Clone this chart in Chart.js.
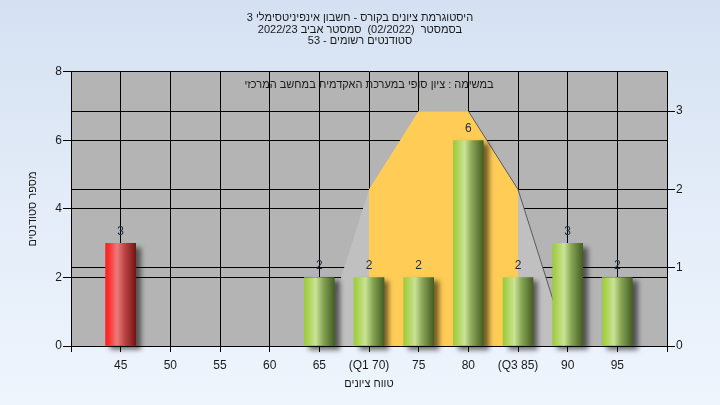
<!DOCTYPE html>
<html><head><meta charset="utf-8">
<script src="https://cdn.jsdelivr.net/npm/chart.js@4"></script>
<style>
html,body{margin:0;padding:0;}
body{width:720px;height:405px;overflow:hidden;background:linear-gradient(to bottom,#d5e1f2 0%,#e3ecf8 50%,#eef5fd 100%);}
canvas{display:block}
</style></head>
<body>
<canvas id="c" width="720" height="405"></canvas>
<script>
// ---- texts ----
const titleLines = [
  'היסטוגרמת ציונים בקורס - חשבון אינפיניטסימלי 3',
  'בסמסטר  (02/2022)  סמסטר אביב 2022/23',
  'סטודנטים רשומים - 53'
];
const legendText = 'במשימה : ציון סופי במערכת האקדמית במחשב המרכזי';
const yAxisTitle = 'מספר סטודנטים';
const xAxisTitle = 'טווח ציונים';

// ---- data ----
const gradeBins = [45, 50, 55, 60, 65, 70, 75, 80, 85, 90, 95];
const studentCounts = [3, 0, 0, 0, 2, 2, 2, 6, 2, 3, 2];
const xTickValues = [45, 50, 55, 60, 65, 70, 75, 80, 85, 90, 95];
const xTickLabels = ['45', '50', '55', '60', '65', '(Q1 70)', '75', '80', '(Q3 85)', '90', '95'];
const boxShapeX = [65, 70, 75, 80, 85, 90];
const boxShapeY = [0, 2, 3, 3, 2, 0];
const quartile1 = 70;
const quartile3 = 85;
const passingGrade = 55;

const FONT = "'Liberation Sans', Arial, 'DejaVu Sans', sans-serif";
const TEXT = '#1a1a1a';
const BAR_W = 30;

const redStops = [[0,'#ff1c1c'],[0.12,'#fb3434'],[0.38,'#ea7c7c'],[0.62,'#c04646'],[1,'#761414']];
const greenStops = [[0,'#9ccb3e'],[0.12,'#aad252'],[0.38,'#cae396'],[0.62,'#88a656'],[1,'#465f22']];

const barData = gradeBins.map((x, i) => ({x, y: studentCounts[i] > 0 ? studentCounts[i] : null}));
const shapePts = boxShapeX.map((x, i) => ({x, y: boxShapeY[i]}));
const boxPts = shapePts.filter(p => p.x >= quartile1 && p.x <= quartile3);
const topY = Math.max(...boxShapeY);
const lastTopX = Math.max(...shapePts.filter(p => p.y === topY).map(p => p.x));
const edgePts = shapePts.filter(p => p.x >= lastTopX);

const plotBg = {
  id: 'plotBg',
  beforeDraw(chart) {
    const a = chart.chartArea, c = chart.ctx;
    c.save();
    c.fillStyle = '#b4b4b4';
    c.fillRect(a.left, a.top, a.right - a.left, a.bottom - a.top);
    c.restore();
  }
};

const barShadow = {
  id: 'barShadow',
  beforeDatasetDraw(chart, args) {
    if (args.meta.type !== 'bar') return;
    const c = chart.ctx;
    c.save();
    c.shadowColor = 'rgba(0,0,0,0.55)';
    c.shadowBlur = 5;
    c.shadowOffsetX = 5;
    c.shadowOffsetY = 4;
  },
  afterDatasetDraw(chart, args) {
    if (args.meta.type !== 'bar') return;
    chart.ctx.restore();
  }
};

const labelsPlugin = {
  id: 'valueLabels',
  afterDatasetsDraw(chart) {
    const c = chart.ctx;
    c.save();
    c.font = '12px ' + FONT;
    c.fillStyle = '#1b2a40';
    c.textAlign = 'center';
    c.textBaseline = 'middle';
    chart.data.datasets.forEach((ds, di) => {
      const meta = chart.getDatasetMeta(di);
      if (meta.type !== 'bar') return;
      meta.data.forEach((el, i) => {
        const v = ds.data[i].y;
        if (!v) return;
        c.fillText(String(v), el.x, el.y - 12);
      });
    });
    const a = chart.chartArea;
    c.font = '11px ' + FONT;
    c.fillStyle = TEXT;
    c.fillText(legendText, (a.left + a.right) / 2, a.top + 13);
    c.restore();
  }
};

new Chart(document.getElementById('c'), {
  data: {
    datasets: [
      {
        type: 'bar',
        data: barData,
        yAxisID: 'y',
        barThickness: BAR_W,
        borderWidth: 0,
        clip: false,
        order: 0,
        backgroundColor: (ctx) => {
          const chart = ctx.chart;
          if (!chart.chartArea || ctx.type !== 'data') return '#999';
          const cx = chart.scales.x.getPixelForValue(ctx.parsed.x);
          const g = chart.ctx.createLinearGradient(cx - BAR_W / 2, 0, cx + BAR_W / 2, 0);
          const stops = ctx.parsed.x < passingGrade ? redStops : greenStops;
          stops.forEach(s => g.addColorStop(s[0], s[1]));
          return g;
        }
      },
      {
        type: 'line', data: edgePts, yAxisID: 'y1', order: 1,
        borderColor: '#5a5a5a', borderWidth: 1, pointRadius: 0, tension: 0, fill: false
      },
      {
        type: 'line', data: boxPts, yAxisID: 'y1', order: 2,
        borderWidth: 0, borderColor: 'rgba(0,0,0,0)', pointRadius: 0, tension: 0,
        fill: 'origin', backgroundColor: '#ffcc56'
      },
      {
        type: 'line', data: shapePts, yAxisID: 'y1', order: 3,
        borderWidth: 0, borderColor: 'rgba(0,0,0,0)', pointRadius: 0, tension: 0,
        fill: 'origin', backgroundColor: '#c0c0c0'
      }
    ]
  },
  options: {
    responsive: false,
    animation: false,
    devicePixelRatio: 1,
    layout: {padding: 0},
    plugins: {
      legend: {display: false},
      tooltip: {enabled: false},
      title: {
        display: true,
        text: titleLines,
        color: TEXT,
        font: {family: FONT, size: 11, weight: 'normal', lineHeight: 1.045},
        padding: {top: 12.4, bottom: 25.1}
      }
    },
    scales: {
      x: {
        type: 'linear', position: 'bottom', min: 40, max: 100, offset: false,
        ticks: {
          stepSize: 5, autoSkip: false, maxRotation: 0, padding: 6,
          color: TEXT, font: {family: FONT, size: 12},
          callback: (v) => { const i = xTickValues.indexOf(v); return i >= 0 ? xTickLabels[i] : ''; }
        },
        grid: {color: '#000', lineWidth: 1, tickLength: 6, offset: false},
        border: {color: '#000', width: 1, z: 1},
        title: {display: true, text: xAxisTitle, color: TEXT, font: {family: FONT, size: 11, lineHeight: 1.2}, padding: {top: 0, bottom: 14.5}},
        afterFit: s => { s.height = 59; }
      },
      y: {
        position: 'left', min: 0, max: 8,
        ticks: {stepSize: 2, padding: 1, color: TEXT, font: {family: FONT, size: 12}},
        grid: {color: '#000', lineWidth: 1, tickLength: 8},
        border: {color: '#000', width: 1, z: 1},
        title: {display: true, text: yAxisTitle, color: TEXT, font: {family: FONT, size: 11, lineHeight: 1.2}, padding: {top: 26.4, bottom: 0}},
        afterFit: s => { s.width = 71; }
      },
      y1: {
        position: 'right', min: 0, max: 3.5,
        ticks: {stepSize: 1, includeBounds: false, padding: 1, color: TEXT, font: {family: FONT, size: 12}},
        grid: {color: '#000', lineWidth: 1, tickLength: 8, drawOnChartArea: true},
        border: {color: '#000', width: 1, z: 1},
        afterFit: s => { s.width = 53; }
      }
    }
  },
  plugins: [plotBg, barShadow, labelsPlugin]
});
</script>
</body></html>
